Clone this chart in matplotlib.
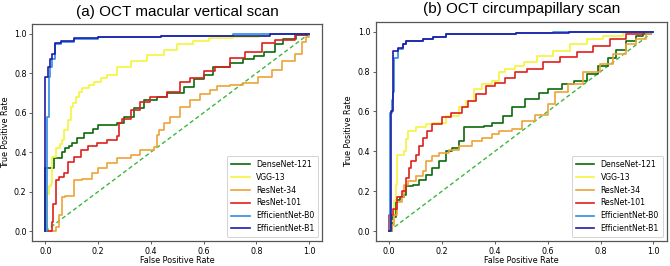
import matplotlib
matplotlib.use("Agg")
import matplotlib.pyplot as plt

models = ["DenseNet-121", "VGG-13", "ResNet-34", "ResNet-101", "EfficientNet-B0", "EfficientNet-B1"]
colors = ["#0b6a0b", "#f5f53a", "#eda338", "#e0201c", "#2f8ee0", "#1c1ca8"]
titles = ["(a) OCT macular vertical scan", "(b) OCT circumpapillary scan"]
ticks = [0.0, 0.2, 0.4, 0.6, 0.8, 1.0]

# ---- panel (a) ----
a_dense_x = [0.0, 0.0, 0.031, 0.065, 0.075, 0.09, 0.10, 0.12, 0.147, 0.18, 0.20, 0.273, 0.30, 0.335, 0.373, 0.424, 0.462, 0.525, 0.565, 0.60, 0.635, 0.70, 0.75, 0.79, 0.83, 0.87, 0.90, 0.95, 1.0]
a_dense_y = [0.0, 0.32, 0.372, 0.40, 0.42, 0.43, 0.445, 0.47, 0.496, 0.52, 0.54, 0.55, 0.58, 0.623, 0.665, 0.68, 0.70, 0.728, 0.77, 0.79, 0.834, 0.85, 0.872, 0.89, 0.91, 0.95, 0.975, 0.995, 1.0]
a_vgg_x = [0.0, 0.008, 0.015, 0.023, 0.027, 0.04, 0.055, 0.065, 0.071, 0.085, 0.096, 0.105, 0.115, 0.128, 0.14, 0.166, 0.185, 0.21, 0.235, 0.273, 0.323, 0.386, 0.449, 0.50, 0.56, 0.62, 0.71, 0.81, 0.85, 1.0]
a_vgg_y = [0.0, 0.19, 0.228, 0.24, 0.377, 0.42, 0.44, 0.46, 0.513, 0.563, 0.63, 0.65, 0.68, 0.707, 0.724, 0.741, 0.758, 0.775, 0.792, 0.834, 0.86, 0.893, 0.919, 0.95, 0.965, 0.978, 0.985, 0.99, 1.0, 1.0]
a_r34_x = [0.0, 0.03, 0.04, 0.052, 0.065, 0.075, 0.109, 0.14, 0.178, 0.20, 0.235, 0.273, 0.323, 0.36, 0.411, 0.424, 0.43, 0.449, 0.474, 0.512, 0.55, 0.588, 0.625, 0.651, 0.70, 0.75, 0.808, 0.859, 0.897, 0.947, 0.972, 0.99, 1.0]
a_r34_y = [0.0, 0.0, 0.02, 0.08, 0.174, 0.18, 0.26, 0.265, 0.293, 0.318, 0.343, 0.369, 0.386, 0.41, 0.428, 0.487, 0.513, 0.548, 0.58, 0.63, 0.665, 0.695, 0.716, 0.733, 0.74, 0.75, 0.78, 0.817, 0.86, 0.9, 0.96, 0.985, 1.0]
a_r101_x = [0.0, 0.02, 0.027, 0.03, 0.04, 0.053, 0.07, 0.084, 0.11, 0.134, 0.16, 0.197, 0.235, 0.273, 0.28, 0.29, 0.323, 0.36, 0.398, 0.462, 0.512, 0.55, 0.60, 0.645, 0.70, 0.758, 0.821, 0.87, 0.947, 0.99]
a_r101_y = [0.0, 0.0, 0.047, 0.14, 0.26, 0.275, 0.293, 0.352, 0.377, 0.41, 0.43, 0.445, 0.462, 0.48, 0.548, 0.57, 0.614, 0.656, 0.68, 0.707, 0.755, 0.775, 0.809, 0.834, 0.875, 0.91, 0.953, 0.97, 0.995, 1.0]
a_b0_x = [0.0, 0.005, 0.012, 0.018, 0.025, 0.035, 0.06, 0.11, 0.2, 0.44, 0.71, 1.0]
a_b0_y = [0.0, 0.58, 0.78, 0.83, 0.87, 0.95, 0.96, 0.975, 0.985, 0.99, 1.0, 1.0]
a_b1_x = [0.0, 0.0, 0.011, 0.018, 0.025, 0.035, 0.06, 0.11, 0.2, 0.44, 0.85, 1.0]
a_b1_y = [0.0, 0.78, 0.834, 0.87, 0.90, 0.955, 0.962, 0.978, 0.985, 0.99, 1.0, 1.0]

# ---- panel (b) ----
b_dense_x = [0.0, 0.01, 0.026, 0.04, 0.058, 0.063, 0.089, 0.114, 0.139, 0.164, 0.189, 0.214, 0.239, 0.264, 0.283, 0.36, 0.39, 0.43, 0.465, 0.515, 0.566, 0.603, 0.653, 0.70, 0.747, 0.79, 0.83, 0.86, 0.897, 0.935, 0.96, 0.99]
b_dense_y = [0.0, 0.07, 0.157, 0.17, 0.18, 0.224, 0.232, 0.258, 0.283, 0.317, 0.35, 0.40, 0.418, 0.45, 0.52, 0.525, 0.544, 0.577, 0.62, 0.662, 0.695, 0.712, 0.737, 0.754, 0.788, 0.83, 0.87, 0.91, 0.956, 0.98, 0.99, 1.0]
b_vgg_x = [0.0, 0.005, 0.02, 0.026, 0.03, 0.058, 0.063, 0.07, 0.10, 0.14, 0.165, 0.214, 0.265, 0.29, 0.32, 0.352, 0.39, 0.414, 0.44, 0.477, 0.509, 0.56, 0.621, 0.684, 0.747, 0.81, 0.885, 0.95]
b_vgg_y = [0.0, 0.05, 0.15, 0.232, 0.384, 0.40, 0.46, 0.50, 0.52, 0.535, 0.544, 0.577, 0.62, 0.653, 0.712, 0.737, 0.754, 0.796, 0.813, 0.83, 0.847, 0.88, 0.906, 0.94, 0.965, 0.98, 0.995, 1.0]
b_r34_x = [0.0, 0.01, 0.02, 0.03, 0.05, 0.058, 0.07, 0.10, 0.127, 0.139, 0.164, 0.189, 0.227, 0.264, 0.315, 0.352, 0.39, 0.415, 0.465, 0.503, 0.553, 0.60, 0.628, 0.678, 0.734, 0.797, 0.847, 0.897, 0.935, 0.972, 0.99]
b_r34_y = [0.0, 0.03, 0.08, 0.148, 0.173, 0.232, 0.25, 0.274, 0.30, 0.35, 0.375, 0.39, 0.409, 0.426, 0.45, 0.468, 0.485, 0.50, 0.51, 0.55, 0.58, 0.64, 0.70, 0.74, 0.80, 0.84, 0.89, 0.94, 0.965, 0.99, 1.0]
b_r101_x = [0.0, 0.0, 0.015, 0.03, 0.05, 0.063, 0.077, 0.083, 0.10, 0.115, 0.127, 0.145, 0.164, 0.20, 0.233, 0.277, 0.30, 0.327, 0.368, 0.402, 0.44, 0.477, 0.521, 0.584, 0.647, 0.709, 0.772, 0.835, 0.897, 0.96]
b_r101_y = [0.0, 0.08, 0.11, 0.173, 0.20, 0.266, 0.317, 0.35, 0.384, 0.426, 0.468, 0.50, 0.535, 0.57, 0.594, 0.62, 0.653, 0.687, 0.729, 0.745, 0.77, 0.796, 0.813, 0.847, 0.872, 0.897, 0.93, 0.965, 0.99, 1.0]
b_b0_x = [0.0, 0.005, 0.01, 0.015, 0.018, 0.028, 0.035, 0.051, 0.063, 0.127, 0.165, 0.214, 0.29, 0.48, 0.62, 1.0]
b_b0_y = [0.0, 0.59, 0.66, 0.70, 0.87, 0.87, 0.915, 0.94, 0.956, 0.965, 0.973, 0.987, 0.99, 0.995, 1.0, 1.0]
b_b1_x = [0.0, 0.008, 0.016, 0.035, 0.051, 0.063, 0.127, 0.165, 0.214, 0.29, 0.48, 0.68, 1.0]
b_b1_y = [0.0, 0.60, 0.906, 0.92, 0.94, 0.956, 0.965, 0.973, 0.987, 0.99, 0.995, 1.0, 1.0]

panel_a = [(a_dense_x, a_dense_y), (a_vgg_x, a_vgg_y), (a_r34_x, a_r34_y),
           (a_r101_x, a_r101_y), (a_b0_x, a_b0_y), (a_b1_x, a_b1_y)]
panel_b = [(b_dense_x, b_dense_y), (b_vgg_x, b_vgg_y), (b_r34_x, b_r34_y),
           (b_r101_x, b_r101_y), (b_b0_x, b_b0_y), (b_b1_x, b_b1_y)]

fig = plt.figure(figsize=(6.70, 2.66), dpi=100)
ax_a = fig.add_axes([0.048, 0.094, 0.433, 0.816])
ax_b = fig.add_axes([0.561, 0.094, 0.434, 0.824])

for ax, data, title in [(ax_a, panel_a, titles[0]), (ax_b, panel_b, titles[1])]:
    ax.plot([0, 1], [0, 1], linestyle="--", color="#3cb83c", lw=1.0, dashes=(3, 2))
    for (xs, ys), name, col in zip(data, models, colors):
        ax.plot(xs, ys, drawstyle="steps-post", color=col, lw=1.2, label=name)
    ax.set_xlim(-0.05, 1.05)
    ax.set_ylim(-0.05, 1.05)
    ax.set_xticks(ticks)
    ax.set_yticks(ticks)
    ax.tick_params(labelsize=5.8, length=2.5, width=0.6, pad=1.5, color="#444444")
    ax.set_xlabel("False Positive Rate", fontsize=5.8, labelpad=0.5)
    ax.set_ylabel("True Positive Rate", fontsize=5.8, labelpad=3)
    for s in ax.spines.values():
        s.set_color("#555555")
        s.set_linewidth(0.9)
    ax.set_title(title, fontsize=11, family="Liberation Sans", pad=6)
    leg = ax.legend(loc="lower right", fontsize=5.6, handlelength=2.4, labelspacing=0.5,
                    borderpad=0.5, framealpha=1, edgecolor="#cccccc")
    leg.get_frame().set_linewidth(0.6)

fig.savefig("out.png", dpi=100)
